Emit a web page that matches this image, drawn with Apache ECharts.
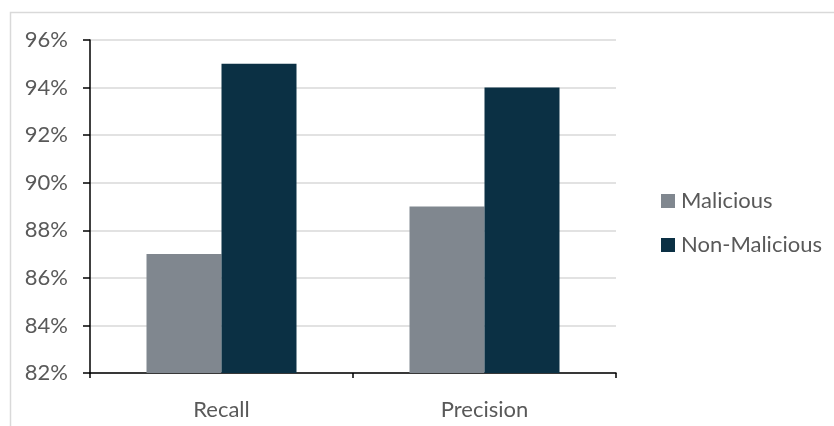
<!DOCTYPE html>
<html>
<head>
<meta charset="utf-8">
<script src="https://cdn.jsdelivr.net/npm/echarts@6/dist/echarts.min.js"></script>
<style>
  html, body { margin: 0; padding: 0; background: #fff; }
  #chart { width: 834px; height: 426px; }
</style>
</head>
<body>
<div id="chart"></div>
<script>
// Detection quality by metric
const categories = ['Recall', 'Precision'];
const malicious = [87, 89];
const nonMalicious = [95, 94];
const seriesNames = ['Malicious', 'Non-Malicious'];
const yMin = 82, yMax = 96, yStep = 2;

const textColor = '#595959';
const fontFamily = 'Lato, "Open Sans", sans-serif';
const fontSize = 22;

const chart = echarts.init(document.getElementById('chart'), null, { renderer: 'canvas' });
chart.setOption({
  animation: false,
  graphic: [{
    type: 'rect',
    shape: { x: 10.5, y: 12.5, width: 900, height: 500 },
    style: { fill: 'none', stroke: '#d9d9d9', lineWidth: 1.5 },
    silent: true
  }],
  grid: { left: 90, right: 218, top: 40, bottom: 53, containLabel: false },
  legend: {
    orient: 'vertical',
    left: 656,
    top: 185,
    itemWidth: 14,
    itemHeight: 14,
    itemGap: 22,
    icon: 'rect',
    textStyle: { color: textColor, fontSize: fontSize, fontFamily: fontFamily, padding: [0, 0, 0, 1] },
    data: seriesNames
  },
  xAxis: {
    type: 'category',
    data: categories,
    axisLine: { lineStyle: { color: '#000', width: 1.5 } },
    axisTick: { show: true, length: 5, lineStyle: { color: '#000', width: 1.5 } },
    axisLabel: { color: textColor, fontSize: fontSize, fontFamily: fontFamily, margin: 26 },
    splitLine: { show: false }
  },
  yAxis: {
    type: 'value',
    min: yMin,
    max: yMax,
    interval: yStep,
    axisLine: { show: true, lineStyle: { color: '#000', width: 1.5 } },
    axisTick: { show: true, length: 7, lineStyle: { color: '#000', width: 1.5 } },
    axisLabel: { color: textColor, fontSize: fontSize, fontFamily: fontFamily, margin: 22, formatter: v => v + '%' },
    splitLine: { show: true, lineStyle: { color: '#d9d9d9', width: 1.5 } }
  },
  series: [
    {
      name: seriesNames[0],
      type: 'bar',
      data: malicious,
      barWidth: 75,
      barGap: '0%',
      itemStyle: { color: '#80878f' }
    },
    {
      name: seriesNames[1],
      type: 'bar',
      data: nonMalicious,
      barWidth: 75,
      barGap: '0%',
      itemStyle: { color: '#0b3044' }
    }
  ]
});
</script>
</body>
</html>
